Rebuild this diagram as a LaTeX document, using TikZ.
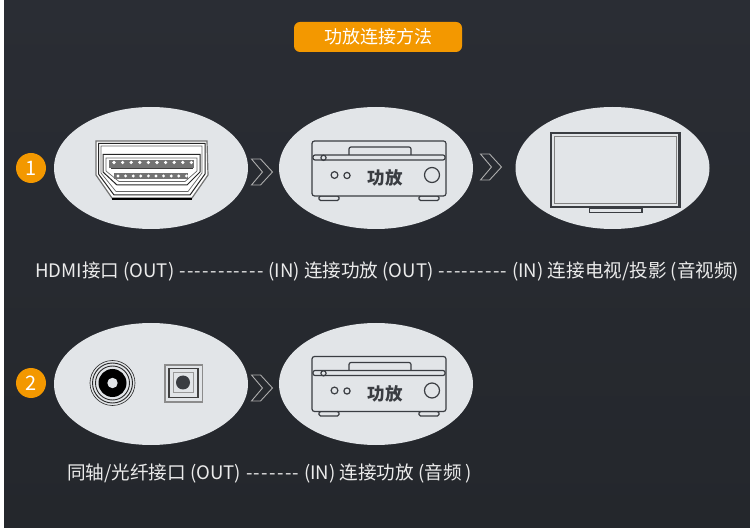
\documentclass[tikz,border=0pt]{standalone}
\usepackage{fontspec}
\setmainfont{Noto Sans CJK SC}
\usetikzlibrary{calc}
\definecolor{panel}{HTML}{2A2D34}
\definecolor{panellow}{HTML}{24272C}
\definecolor{disc}{HTML}{E2E5E8}
\definecolor{badge}{HTML}{F39800}
\definecolor{ink}{HTML}{3A3D42}
\tikzset{
	badge/.style={circle, fill=badge, text=white, minimum size=30pt, inner sep=0pt, font=\fontsize{20}{20}\selectfont},
	caption/.style={text=white!92!black, inner sep=0pt, anchor=west, font=\fontsize{18.6}{19}\selectfont},
	chevron/.style={draw=white!68!black, line width=0.9pt},
	inkline/.style={draw=ink, line width=1.2pt}
}
% amplifier, drawn from the top left corner of its case
\def\amplifier[#1](#2,#3){
	\begin{scope}[shift={(#2,#3)}]
		\draw[inkline, rounded corners=1.5pt] (7, 55) rectangle (27, 59.5);
		\draw[inkline, rounded corners=1.5pt] (107, 55) rectangle (127, 59.5);
		\draw[inkline, fill=disc, rounded corners=2.5pt] (0, 0) rectangle (134, 55);
		\draw[inkline, rounded corners=2pt] (37, 14) -- (37, 6) -- (99, 6) -- (99, 14);
		\draw[inkline, rounded corners=2pt] (1, 14) rectangle (133, 19);
		\draw[inkline] (11.5, 16.8) circle (2.6);
		\draw[inkline] (22.5, 34) circle (3.4);
		\draw[inkline] (35, 34.5) circle (3.1);
		\draw[inkline] (120, 34) circle (7.5);
		\node[text=ink, inner sep=0pt, font=\fontsize{17.5}{18}\bfseries\selectfont] (#1) at (73, 37) {功放};
	\end{scope}
}
\def\arrowmark(#1,#2){
	\draw[chevron] ($(#1,#2)+(-10.5,-13)$) -- ++(9,0) -- ++(12,13) -- ++(-12,13) -- ++(-9,0) -- ++(11,-13) -- cycle;
}
% a run of single hyphens, each in a box of its own
\def\dashrun#1{\foreach \d in {1,...,#1}{\makebox[7.8pt]{-}}}

\begin{document}
\begin{tikzpicture}[x=1pt, y=-1pt]
	%%%%% START %%%%%
	\useasboundingbox (0, 0) rectangle (750, 529);
	\fill[white] (0, 0) rectangle (750, 529);
	\shade[top color=panel, bottom color=panellow] (4, 0) rectangle (750, 527);

	\node[fill=badge, text=white, rounded corners=6pt, minimum width=168pt, minimum height=30pt, inner sep=0pt, font=\fontsize{18}{18}\selectfont] (title) at (378, 37) {功放连接方法};

	\node[badge] (one) at (31, 168) {1};
	\node[badge] (two) at (31, 383) {2};

	\fill[disc] (151, 168) ellipse (97 and 61);
	\fill[disc] (376, 168) ellipse (97 and 61);
	\fill[disc] (612.5, 168) ellipse (97 and 61);
	\fill[disc] (151, 384) ellipse (97 and 61);
	\fill[disc] (376, 384) ellipse (97 and 61);

	\arrowmark(262, 172)
	\arrowmark(491, 167)
	\arrowmark(262, 388)

	% hdmi socket
	\draw[fill=white, draw=black!55, line width=1.2pt] (96, 141) -- (207, 141) -- (208, 175) -- (192, 198) -- (112, 198) -- (96, 175) -- cycle;
	\draw[draw=black!85, line width=1pt] (98.5, 143.5) -- (205, 143.5) -- (205, 174) -- (190, 195) -- (114, 195) -- (98.5, 174) -- cycle;
	\draw[draw=black!60, line width=0.7pt] (101, 146) -- (202, 146) -- (202, 173) -- (188, 191.5) -- (116, 191.5) -- (101, 173) -- cycle;
	\draw[draw=black, line width=1.8pt] (112, 199) -- (192, 199);
	\draw[draw=black!85, line width=1pt] (103, 154.5) -- (200, 154.5) -- (200, 172) -- (187, 185) -- (117, 185) -- (103, 172) -- cycle;
	\draw[draw=black!60, line width=0.7pt] (106, 158) -- (197, 158) -- (197, 171) -- (185, 181.5) -- (119, 181.5) -- (106, 171) -- cycle;
	\fill[black!55] (109, 160) rectangle (194, 168);
	\fill[white] (111, 168) rectangle (193, 173);
	\draw[draw=black!75, line width=0.7pt] (111, 168) -- (193, 168);
	\fill[black!55] (114, 173) rectangle (188, 179.5);
	\foreach \k in {0,...,9} {
		\fill[white] (114 + 8.6*\k, 162.5) circle (1.8);
		\fill[white] (118 + 7.6*\k, 176) circle (1.6);
	}

	% television
	\draw[draw=ink, line width=1.2pt, fill=disc] (589.5, 208) rectangle (642, 212.5);
	\draw[draw=ink, line width=2.4pt, fill=disc] (551, 133) rectangle (679.5, 207);
	\draw[draw=black!50, line width=1pt] (554.5, 136.5) rectangle (676, 203.5);

	\amplifier[ampone](312, 141)
	\amplifier[amptwo](312, 356.5)

	% coax socket
	\draw[draw=black!85, line width=0.6pt] (112.5, 383) circle (22.5);
	\draw[draw=black!85, line width=0.9pt] (112.5, 383) circle (20);
	\draw[draw=black!85, line width=0.9pt] (112.5, 383) circle (17);
	\fill[black] (112.5, 383) circle (14);
	\fill[disc] (112.5, 383) circle (5.2);

	% optical socket
	\draw[draw=black!45, line width=1.3pt] (165, 365) rectangle (202.5, 402);
	\draw[draw=black!75, line width=1.6pt] (169, 368.5) rectangle (198, 397.5);
	\draw[draw=black!40, line width=1pt] (173, 372.5) rectangle (193, 392.5);
	\fill[ink] (183, 382.5) circle (7);

	\node[caption] (hdmiline) at (35, 271) {HDMI接口 (OUT) \dashrun{11} (IN) 连接功放 (OUT) \dashrun{9} (IN) 连接电视/投影 (音视频)};
	\node[caption] (audioline) at (67, 473) {同轴/光纤接口 (OUT) \dashrun{7} (IN) 连接功放 (音频 )};
	%%%%% END %%%%%
\end{tikzpicture}
\end{document}
